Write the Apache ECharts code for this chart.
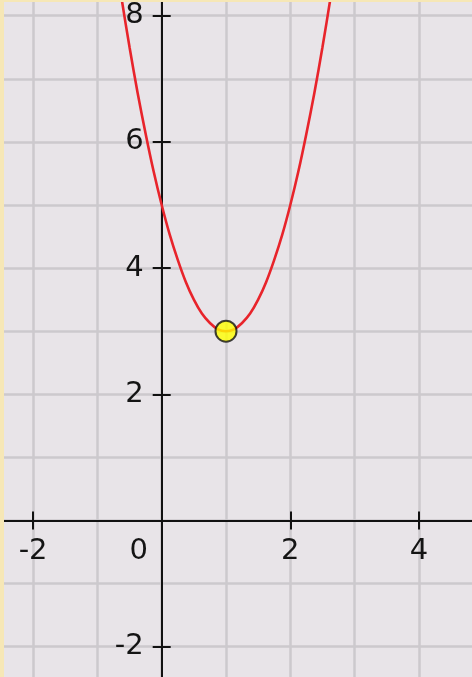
<!DOCTYPE html>
<html>
<head>
<meta charset="utf-8">
<script src="https://cdn.jsdelivr.net/npm/echarts@6/dist/echarts.min.js"></script>
<style>
  html, body { margin: 0; padding: 0; background: #f6e7b6; width: 472px; height: 677px; overflow: hidden; }
  #chart { position: absolute; left: 4px; top: 2px; width: 468px; height: 675px; background: #e8e4e8; }
</style>
</head>
<body>
<div id="chart"></div>
<script>
// Curve points
const curveX = [-0.75, -0.625, -0.5, -0.375, -0.25, -0.125, 0, 0.125, 0.25, 0.375, 0.5, 0.625, 0.75, 0.875, 1,
                1.125, 1.25, 1.375, 1.5, 1.625, 1.75, 1.875, 2, 2.125, 2.25, 2.375, 2.5, 2.625, 2.75];
const curveY = [9.13, 8.28, 7.5, 6.78, 6.13, 5.53, 5.0, 4.53, 4.13, 3.78, 3.5, 3.28, 3.13, 3.03, 3.0,
                3.03, 3.13, 3.28, 3.5, 3.78, 4.13, 4.53, 5.0, 5.53, 6.13, 6.78, 7.5, 8.28, 9.13];
// Highlighted point
const pointX = [1];
const pointY = [3];
// Axis tick labels (labelled every 2)
const xTickLabels = [-2, 0, 2, 4];
const yTickLabels = [-2, 2, 4, 6, 8];

const curveData = curveX.map((x, i) => [x, curveY[i]]);
const pointData = pointX.map((x, i) => [x, pointY[i]]);

const FONT = 'DejaVu Sans';
const X_MIN = -4, X_MAX = 6, Y_MIN = -4, Y_MAX = 10;
const PX_X = 64.3, PX_Y = 63.1; // pixels per unit
const chart = echarts.init(document.getElementById('chart'));

function axisBase(isX, main) {
  const o = {
    type: 'value',
    min: isX ? X_MIN : Y_MIN,
    max: isX ? X_MAX : Y_MAX,
    interval: 2,
    position: isX ? 'bottom' : 'left',
    // move the axis from the grid edge onto the zero line of the other axis
    offset: isX ? -(0 - Y_MIN) * PX_Y : -(0 - X_MIN) * PX_X,
    axisLine: { show: main, onZero: false, lineStyle: { color: '#111', width: 2 } },
    axisTick: { show: true, inside: !main, length: 9, lineStyle: { color: '#111', width: 2 } },
    minorTick: { show: false, splitNumber: 2 },
    splitLine: { show: main, lineStyle: { color: '#ccc9cd', width: 2.5 } },
    minorSplitLine: { show: main, lineStyle: { color: '#ccc9cd', width: 2.5 } },
    axisLabel: { show: false }
  };
  if (main) {
    const list = isX ? xTickLabels : yTickLabels;
    o.axisLabel = {
      show: true,
      color: '#141414',
      fontFamily: FONT,
      fontSize: 29,
      margin: isX ? 16 : 18,
      formatter: function (v) {
        if (list.indexOf(v) < 0) return '';
        if (isX && v === 0) return '{z|0}';
        return String(v);
      },
      rich: { z: { fontFamily: FONT, fontSize: 29, color: '#141414', padding: [0, 46, 0, 0] } }
    };
  }
  return o;
}

chart.setOption({
  animation: false,
  backgroundColor: '#e8e4e8',
  grid: { left: -99.5, right: -75.5, top: -112.5, bottom: -95.9, outerBoundsMode: 'none', containLabel: false },
  xAxis: [axisBase(true, true), axisBase(true, false)],
  yAxis: [axisBase(false, true), axisBase(false, false)],
  series: [
    {
      type: 'line',
      data: curveData,
      smooth: 0.3,
      showSymbol: false,
      clip: true,
      lineStyle: { color: '#e8242b', width: 2.6 },
      z: 5
    },
    {
      type: 'scatter',
      data: pointData,
      symbolSize: 21,
      itemStyle: { color: '#ffff00', borderColor: '#111', borderWidth: 2 },
      z: 6
    }
  ]
});
</script>
</body>
</html>
